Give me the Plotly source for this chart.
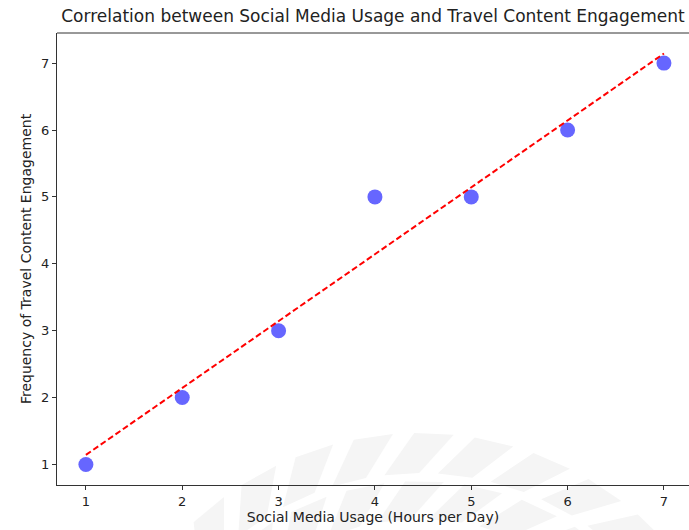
import math
import numpy as np
import plotly.graph_objects as go

# Hours per day on social media vs. how often travel content is engaged with
usage_hours = [1, 2, 3, 4, 5, 6, 7]
engagement = [1, 2, 3, 5, 5, 6, 7]

x_ticks = [1, 2, 3, 4, 5, 6, 7]
y_ticks = [1, 2, 3, 4, 5, 6, 7]

title_text = "Correlation between Social Media Usage and Travel Content Engagement"
x_label = "Social Media Usage (Hours per Day)"
y_label = "Frequency of Travel Content Engagement"

# Least-squares trend line through the observations
slope, intercept = np.polyfit(usage_hours, engagement, 1)
trend = [slope * x + intercept for x in usage_hours]

FONT = "DejaVu Sans"
W, H = 689, 530
ML, MR, MT, MB = 57, 0, 33, 45

fig = go.Figure()
fig.add_trace(go.Scatter(
    x=usage_hours, y=engagement, mode="markers",
    marker=dict(color="blue", opacity=0.6, size=15, line=dict(width=0)),
    showlegend=False,
))
fig.add_trace(go.Scatter(
    x=usage_hours, y=trend, mode="lines",
    line=dict(color="red", width=2, dash="6px,3px"),
    showlegend=False,
))

fig.update_layout(
    width=W, height=H,
    margin=dict(l=ML, r=MR, t=MT, b=MB),
    paper_bgcolor="white", plot_bgcolor="rgba(0,0,0,0)",
    font=dict(family=FONT, color="#222"),
    title=dict(text=title_text, x=(ML + W) / 2 / W, xanchor="center",
               y=1 - 16 / H, yanchor="middle", yref="container",
               font=dict(size=17, color="#222")),
    xaxis=dict(range=[0.7, 7.26], tickvals=x_ticks, ticks="outside", ticklen=4,
               tickcolor="#333", showgrid=False, zeroline=False, showline=True,
               linecolor="#333", linewidth=1, mirror=False,
               tickfont=dict(size=13, color="#222"),
               title=dict(text=x_label, font=dict(size=14, color="#222"), standoff=4)),
    yaxis=dict(range=[0.693, 7.45], tickvals=y_ticks, ticks="outside", ticklen=4,
               tickcolor="#333", showgrid=False, zeroline=False, showline=True,
               linecolor="#333", linewidth=1, mirror=False,
               tickfont=dict(size=13, color="#222"),
               title=dict(text=y_label, font=dict(size=14, color="#222"), standoff=6)),
)

# Top frame edge of the axes box
fig.add_shape(type="line", xref="paper", yref="paper", x0=0, x1=1, y0=1, y1=1,
              line=dict(color="#333", width=1))


# Faint wreath emblem behind the plot, built from slanted leaf segments
def to_paper(px, py):
    return (px - ML) / (W - ML - MR), (H - MB - py) / (H - MT - MB)


def leaf_path(cx, cy, r0, r1, a0, width, skew):
    pts = []
    for r, a in ((r0, a0), (r0, a0 + width), (r1, a0 + width + skew), (r1, a0 + skew)):
        rad = math.radians(a)
        pts.append(to_paper(cx + r * math.sin(rad), cy - r * math.cos(rad)))
    return "M " + " L ".join(f"{x:.4f},{y:.4f}" for x, y in pts) + " Z"


cx, cy = 420, 765
for r0, r1, step, skew in ((292, 332, 10.5, 6), (246, 284, 12, 7)):
    a = -70
    while a < 70:
        fig.add_shape(type="path", xref="paper", yref="paper", layer="below",
                      path=leaf_path(cx, cy, r0, r1, a, step * 0.65, skew),
                      fillcolor="#f5f5f5", line=dict(width=0))
        a += step

fig.write_html("out.html")
